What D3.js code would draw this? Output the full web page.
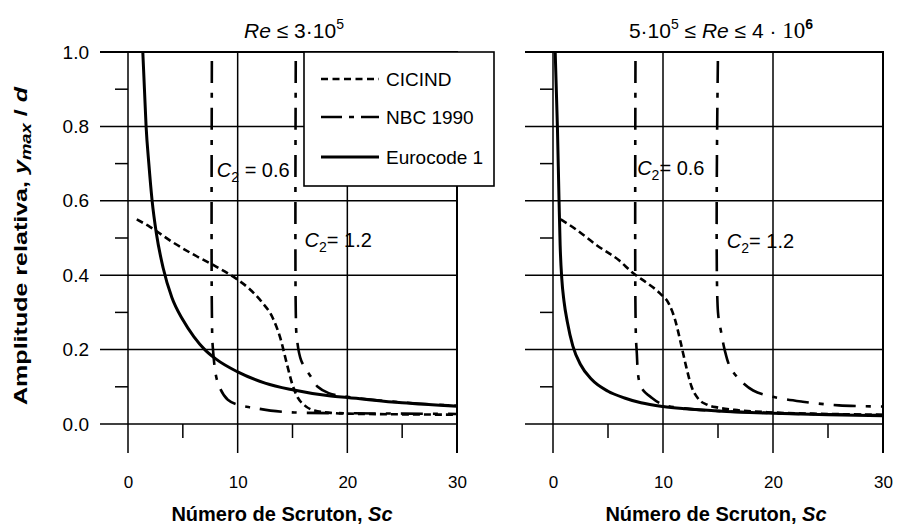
<!DOCTYPE html>
<html><head><meta charset="utf-8">
<script src="https://cdn.jsdelivr.net/npm/d3@7"></script>
<style>
body{margin:0;background:#fff}
svg{display:block}
text{font-family:"Liberation Sans",Arial,Helvetica,sans-serif;fill:#000}
</style>
</head><body>
<svg id="chart" width="897" height="524"></svg>
<script>
// ---------- data ----------
const xTicks = [0, 10, 20, 30];
const xMinor = [5, 15, 25];
const yTicks = [0, 0.2, 0.4, 0.6, 0.8, 1.0];
const yMinor = [0.1, 0.3, 0.5, 0.7, 0.9];
const seriesNames = ["CICIND", "NBC 1990", "Eurocode 1"];

// Left panel: Re <= 3e5   [Sc, y_max/d]
const cicindLeft = [[0.8,0.55],[2,0.53],[4,0.49],[6,0.455],[7.8,0.427],[9.9,0.39],[11,0.365],[12.2,0.328],[13.2,0.285],[13.9,0.23],[14.5,0.16],[15,0.105],[15.5,0.07],[16.1,0.05],[17,0.036],[18.5,0.03],[20,0.028],[25,0.026],[30,0.025]];
const nbc06Left = [[7.65,1.0],[7.65,0.3],[7.75,0.2],[8.2,0.11],[9.1,0.065],[10.2,0.05],[11.4,0.044],[13,0.036],[15.2,0.031],[20,0.029],[25,0.028],[30,0.027]];
const nbc12Left = [[15.3,1.0],[15.3,0.3],[15.4,0.23],[15.8,0.17],[16.7,0.126],[17.3,0.1],[18.3,0.083],[20,0.073],[25,0.058],[30,0.049]];
const eurocodeLeft = [[1.35,1.0],[1.5,0.9],[1.65,0.8],[1.9,0.7],[2.2,0.6],[2.6,0.51],[3.2,0.42],[4,0.34],[5,0.28],[6,0.235],[7,0.2],[8,0.175],[10,0.14],[12.5,0.11],[15,0.092],[18.5,0.075],[20,0.071],[25,0.057],[30,0.048]];

// Right panel: 5e5 <= Re <= 4e6
const cicindRight = [[0.7,0.55],[2,0.525],[4,0.48],[6,0.44],[7.3,0.405],[8.5,0.38],[9.7,0.352],[10.5,0.325],[11.1,0.28],[11.6,0.22],[12.1,0.155],[12.6,0.1],[13.2,0.068],[14,0.052],[15,0.044],[16.5,0.038],[20,0.031],[25,0.027],[30,0.025]];
const nbc06Right = [[7.5,1.0],[7.5,0.3],[7.6,0.2],[8.0,0.1],[9.0,0.07],[10,0.052],[12,0.042],[15,0.035],[20,0.029],[25,0.026],[30,0.024]];
const nbc12Right = [[15,1.0],[15,0.3],[15.3,0.245],[15.6,0.2],[16.1,0.153],[17,0.118],[18.2,0.09],[20,0.073],[22.7,0.06],[26,0.05],[30,0.047]];
const eurocodeRight = [[0.2,1.0],[0.4,0.8],[0.55,0.6],[0.65,0.48],[0.8,0.39],[1.0,0.33],[1.3,0.275],[1.8,0.21],[2.5,0.16],[3.5,0.12],[5,0.088],[6.5,0.07],[8,0.057],[10,0.047],[12,0.041],[15,0.035],[20,0.029],[25,0.025],[30,0.022]];

// C2 annotation positions (data coords: Sc, y)
const c2Left = [{v:"0.6", sc:8.1, y:0.664}, {v:"1.2", sc:16.1, y:0.476, tight:true}];
const c2Right = [{v:"0.6", sc:7.65, y:0.67, tight:true}, {v:"1.2", sc:15.8, y:0.473, tight:true}];

// ---------- drawing ----------
const svg = d3.select("#chart");
const ys = d3.scaleLinear().domain([0, 1]).range([424, 52]);

const styles = {
  cicind: {w:2.6, dash:"7,4", off:0, curve:d3.curveMonotoneX},
  nbc: {w:2.6, dash:"22,10,5,10", off:38, curve:d3.curveCatmullRom.alpha(0.5)},
  euro: {w:3.0, dash:null, off:0, curve:d3.curveMonotoneX}
};

function panel(opt) {
  const xs = d3.scaleLinear().domain([0, 30]).range(opt.xr);
  const g = svg.append("g");
  const x0 = xs(0), x30 = xs(30);
  g.selectAll(".hg").data(yTicks).join("line")
    .attr("x1", x0 - 28).attr("x2", x30)
    .attr("y1", d => ys(d)).attr("y2", d => ys(d))
    .attr("stroke", "#000").attr("stroke-width", d => d === 1 ? 2 : 1.5);
  g.selectAll(".vg").data(xTicks).join("line")
    .attr("x1", d => xs(d)).attr("x2", d => xs(d))
    .attr("y1", ys(1) - 1).attr("y2", ys(0) + 29)
    .attr("stroke", "#000").attr("stroke-width", d => d === 30 ? 2 : 1.5);
  g.selectAll(".mx").data(xMinor).join("line")
    .attr("x1", d => xs(d)).attr("x2", d => xs(d))
    .attr("y1", ys(0)).attr("y2", ys(0) + 14)
    .attr("stroke", "#000").attr("stroke-width", 1.5);
  g.selectAll(".my").data(yMinor).join("line")
    .attr("x1", x0 - 13).attr("x2", x0)
    .attr("y1", d => ys(d)).attr("y2", d => ys(d))
    .attr("stroke", "#000").attr("stroke-width", 1.5);

  opt.series.forEach(s => {
    const st = styles[s.kind];
    const line = d3.line().x(d => xs(d[0])).y(d => ys(d[1])).curve(st.curve);
    g.append("path").attr("d", line(s.data))
      .attr("fill", "none").attr("stroke", "#000")
      .attr("stroke-width", st.w)
      .attr("stroke-dasharray", st.dash)
      .attr("stroke-dashoffset", st.off)
      .attr("stroke-linejoin", "round");
  });

  const ax = d3.axisBottom(xs).tickValues(xTicks).tickSize(0).tickPadding(52).tickFormat(d3.format("d"));
  const axg = g.append("g").attr("transform", `translate(0,${ys(0)})`).call(ax);
  axg.select(".domain").remove();
  axg.selectAll("text").attr("font-size", 17).attr("font-family", "Liberation Sans, Arial, sans-serif").attr("fill", "#000");

  if (opt.yLabels) {
    const ay = d3.axisLeft(ys).tickValues(yTicks).tickSize(0).tickPadding(11).tickFormat(d3.format(".1f"));
    const ayg = g.append("g").attr("transform", `translate(${x0 - 28},0)`).call(ay);
    ayg.select(".domain").remove();
    ayg.selectAll("text").attr("font-size", 19).attr("font-family", "Liberation Sans, Arial, sans-serif").attr("fill", "#000");
  }

  const xt = g.append("text").attr("x", opt.xTitleX).attr("y", 521)
    .attr("text-anchor", "middle").attr("font-size", 20).attr("font-weight", "bold");
  xt.append("tspan").text("Número de Scruton, ");
  xt.append("tspan").attr("font-style", "italic").text("Sc");

  opt.c2.forEach(c => {
    const t = g.append("text").attr("x", xs(c.sc)).attr("y", ys(c.y)).attr("font-size", 20);
    t.append("tspan").attr("font-style", "italic").text("C");
    t.append("tspan").attr("font-size", 14).attr("dy", 5).text("2");
    t.append("tspan").attr("dy", -5).text(c.tight ? "= " + c.v : " = " + c.v);
  });
  return xs;
}

panel({xr:[128, 457], yLabels:true, xTitleX:282, c2:c2Left,
  series:[{kind:"cicind", data:cicindLeft},{kind:"nbc", data:nbc06Left},{kind:"nbc", data:nbc12Left},{kind:"euro", data:eurocodeLeft}]});
panel({xr:[553, 883], yLabels:false, xTitleX:716, c2:c2Right,
  series:[{kind:"cicind", data:cicindRight},{kind:"nbc", data:nbc06Right},{kind:"nbc", data:nbc12Right},{kind:"euro", data:eurocodeRight}]});

// titles
const t1 = svg.append("text").attr("x", 294).attr("y", 38).attr("text-anchor", "middle").attr("font-size", 21);
t1.append("tspan").attr("font-style", "italic").text("Re");
t1.append("tspan").text(" \u2264  3\u00B710");
t1.append("tspan").attr("font-size", 14).attr("dy", -9).text("5");

const t2 = svg.append("text").attr("x", 721).attr("y", 38).attr("text-anchor", "middle").attr("font-size", 21);
t2.append("tspan").text("5\u00B710");
t2.append("tspan").attr("font-size", 14).attr("dy", -9).text("5");
t2.append("tspan").attr("dy", 9).text(" \u2264 ");
t2.append("tspan").attr("font-style", "italic").text("Re");
t2.append("tspan").text(" \u2264 4 \u00B7 ");
t2.append("tspan").attr("font-family", "Liberation Serif, Times New Roman, serif").attr("font-size", 23).text("10");
t2.append("tspan").attr("font-size", 14).attr("dy", -9).attr("font-weight", "bold").text("6");

// y title
const yt = svg.append("text").attr("transform", "translate(27,246) rotate(-90)")
  .attr("text-anchor", "middle").attr("font-size", 19).attr("font-weight", "bold")
  .attr("textLength", 318).attr("lengthAdjust", "spacingAndGlyphs");
yt.append("tspan").text("Amplitude relativa, ");
yt.append("tspan").attr("font-style", "italic").text("y");
yt.append("tspan").attr("font-style", "italic").attr("font-size", 14).attr("dy", 4).text("max");
yt.append("tspan").attr("dy", -4).text(" / ");
yt.append("tspan").attr("font-style", "italic").text("d");

// legend
const lg = svg.append("g");
lg.append("rect").attr("x", 304).attr("y", 52).attr("width", 190).attr("height", 134)
  .attr("fill", "#fff").attr("stroke", "#000").attr("stroke-width", 1.6);
const legRows = [
  {name: seriesNames[0], kind:"cicind", y:79, dash:"7,4.5"},
  {name: seriesNames[1], kind:"nbc", y:117, dash:"21,7,5,7"},
  {name: seriesNames[2], kind:"euro", y:157, dash:null}
];
legRows.forEach(r => {
  lg.append("line").attr("x1", 321).attr("x2", 379).attr("y1", r.y).attr("y2", r.y)
    .attr("stroke", "#000").attr("stroke-width", styles[r.kind].w).attr("stroke-dasharray", r.dash);
  lg.append("text").attr("x", 386).attr("y", r.y).attr("dy", "0.36em").attr("font-size", 19).text(r.name);
});
</script>
</body></html>
